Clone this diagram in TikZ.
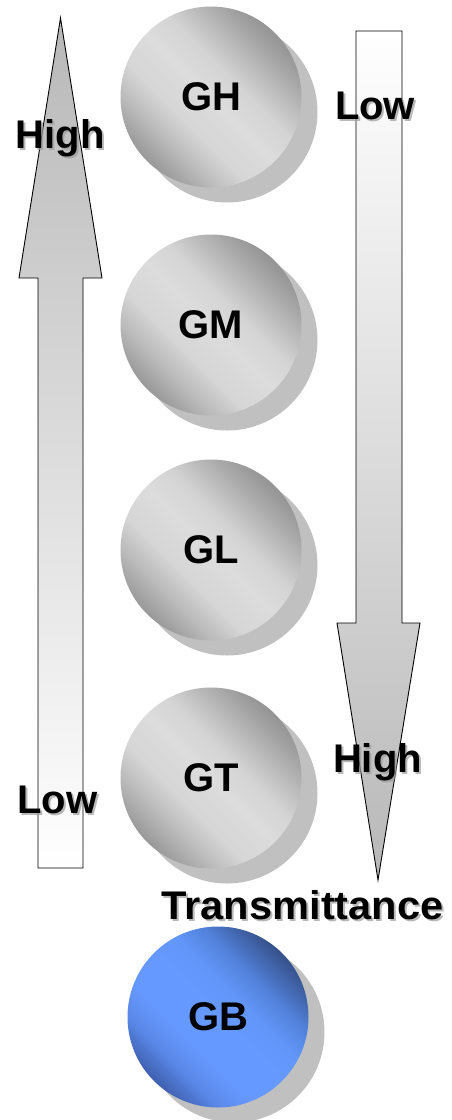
\documentclass[tikz,border=0pt]{standalone}
\usepackage{fontspec}
\setmainfont{Liberation Sans}
\newfontfamily\boldsans{Liberation Sans Bold}

% colours
\definecolor{gsA}{HTML}{999999}
\definecolor{gsB}{HTML}{BABABA}
\definecolor{gsC}{HTML}{D6D6D6}
\definecolor{gsD}{HTML}{DCDCDC}
\definecolor{gsE}{HTML}{D4D4D4}
\definecolor{gsF}{HTML}{B8B8B8}
\definecolor{gsG}{HTML}{9C9C9C}
\definecolor{gsH}{HTML}{959595}
\definecolor{bsA}{HTML}{4060B0}
\definecolor{bsB}{HTML}{5A88E8}
\definecolor{bsC}{HTML}{6699FF}
\definecolor{bsD}{HTML}{6699FF}
\definecolor{bsE}{HTML}{6296F8}
\definecolor{bsF}{HTML}{5080D8}
\definecolor{bsG}{HTML}{3D5C9C}
\definecolor{bsH}{HTML}{36528C}
\definecolor{shadowgray}{HTML}{C0C0C0}
\definecolor{arrowgray}{HTML}{B8B8B8}
\definecolor{textshadow}{HTML}{9A9A9A}

% diagonal shadings for the balls (25bp..75bp spans the diameter)
\pgfdeclarehorizontalshading{graysph}{100bp}{%
  color(0bp)=(gsA); color(25bp)=(gsA); color(32.5bp)=(gsB);
  color(40bp)=(gsC); color(50bp)=(gsD); color(57.5bp)=(gsE);
  color(65bp)=(gsF); color(72.5bp)=(gsG); color(75bp)=(gsH);
  color(100bp)=(gsH)}
\pgfdeclarehorizontalshading{bluesph}{100bp}{%
  color(0bp)=(bsA); color(25bp)=(bsA); color(32.5bp)=(bsB);
  color(40bp)=(bsC); color(50bp)=(bsD); color(57.5bp)=(bsE);
  color(65bp)=(bsF); color(72.5bp)=(bsG); color(75bp)=(bsH);
  color(100bp)=(bsH)}

\tikzset{
  ball/.style={circle, minimum size=181pt, inner sep=0pt,
    shading=graysph, shading angle=45,
    font=\boldsans\fontsize{40}{48}\selectfont},
  blueball/.style={ball, shading=bluesph},
  ballshadow/.style={circle, minimum size=181pt, inner sep=0pt, fill=shadowgray},
  lbl/.style={inner sep=0pt, anchor=base, font=\boldsans\fontsize{40}{48}\selectfont},
  lblshadow/.style={lbl, text=textshadow, opacity=0.7},
  arrowbody/.style={draw=black, line width=0.9pt, line join=miter},
}

\begin{document}
\begin{tikzpicture}[x=1pt, y=-1pt]
\useasboundingbox (0,0) rectangle (452,1120);
\fill[white] (0,0) rectangle (452,1120);

% upward arrow on the left
\shade[arrowbody, top color=arrowgray, bottom color=white]
  (60.5,18) -- (102,278) -- (83,278) -- (83,868) -- (38,868)
  -- (38,278) -- (19,278) -- cycle;

% downward arrow on the right
\shade[arrowbody, top color=white, bottom color=arrowgray]
  (356,31) -- (402,31) -- (402,623) -- (420,623) -- (378,880)
  -- (337,623) -- (356,623) -- cycle;

% balls with their shadows
\node[ballshadow] (ghs) at (227,112) {};
\node[ball] (gh) at (211,97) {GH};

\node[ballshadow] (gms) at (227,340) {};
\node[ball] (gm) at (211,325) {GM};

\node[ballshadow] (gls) at (227,565) {};
\node[ball] (gl) at (211,550) {GL};

\node[ballshadow] (gts) at (227,793) {};
\node[ball] (gt) at (211,778) {GT};

\node[ballshadow] (gbs) at (234,1032) {};
\node[blueball] (gb) at (218,1017) {GB};

% scale labels
\node[lblshadow] at (62,150) {High};
\node[lbl] (highL) at (60,148) {High};
\node[lblshadow] at (59.5,815) {Low};
\node[lbl] (lowL) at (57.5,813) {Low};
\node[lblshadow] at (377,121) {Low};
\node[lbl] (lowR) at (375,119) {Low};
\node[lblshadow] at (379.5,774) {High};
\node[lbl] (highR) at (377.5,772) {High};
\node[lblshadow, xscale=1.04] at (304.5,921) {Transmittance};
\node[lbl, xscale=1.04] (trans) at (302.5,919) {Transmittance};
\end{tikzpicture}
\end{document}
